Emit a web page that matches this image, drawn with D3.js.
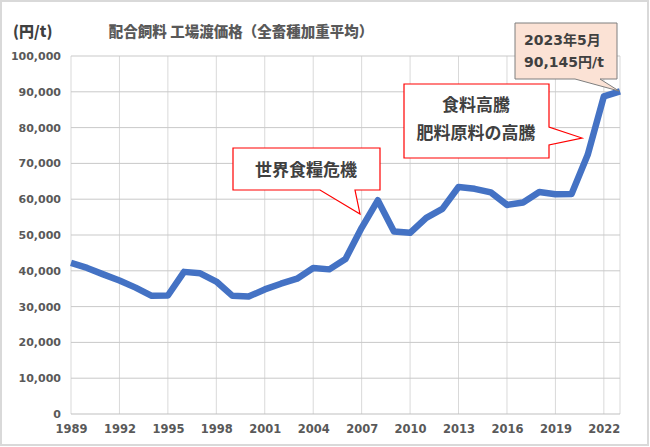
<!DOCTYPE html>
<html>
<head>
<meta charset="utf-8">
<script src="https://cdn.jsdelivr.net/npm/d3@7"></script>
<style>
    body { margin: 0; background: #ffffff; }
    svg { display: block; }
</style>
</head>
<body>
<div id="chart"></div>
<script>
// data (yen per ton, yearly)
var years = d3.range(1989, 2024);
var prices = [
    42200, 40800, 39000, 37300, 35300, 33000, 33100, 39700, 39300, 37000,
    33000, 32800, 34800, 36400, 37800, 40800, 40400, 43300, 52000, 59700,
    51000, 50600, 54800, 57300, 63400, 62900, 61900, 58400, 59100, 62000,
    61400, 61450, 72400, 88700, 90145
];
var yTicks = [0, 10000, 20000, 30000, 40000, 50000, 60000, 70000, 80000, 90000, 100000];
var xTicks = d3.range(1989, 2024, 3);

var width = 650, height = 447;
var font = "'DejaVu Sans', 'Noto Sans CJK JP', sans-serif";
var jpFont = "'Noto Sans CJK JP', sans-serif";
var textColor = "#595959";

var svg = d3.select("#chart")
    .append("svg")
    .attr("width", width)
    .attr("height", height);

// outer frame
svg.append("rect")
    .attr("x", 1).attr("y", 1)
    .attr("width", width - 3).attr("height", height - 3)
    .attr("fill", "#ffffff")
    .attr("stroke", "#d9d9d9")
    .attr("stroke-width", 2);

var x = d3.scaleLinear().domain([1989, 2023]).range([71, 620]);
var y = d3.scaleLinear().domain([0, 100000]).range([414, 56]);

// vertical gridlines every 3 years + right edge
svg.append("g")
    .selectAll("line")
    .data(xTicks.concat([2023]))
    .enter().append("line")
    .attr("x1", d => x(d)).attr("x2", d => x(d))
    .attr("y1", y(100000)).attr("y2", y(0))
    .attr("stroke", "#d9d9d9")
    .attr("stroke-width", 1);

// horizontal gridlines
svg.append("g")
    .selectAll("line")
    .data(yTicks)
    .enter().append("line")
    .attr("x1", x(1989)).attr("x2", x(2023))
    .attr("y1", d => y(d)).attr("y2", d => y(d))
    .attr("stroke", d => d == 0 ? "#bfbfbf" : "#c9c9c9")
    .attr("stroke-width", 1);

// y axis labels
var yAxis = svg.append("g")
    .attr("transform", "translate(61,0)")
    .call(d3.axisLeft(y).tickValues(yTicks).tickSize(0).tickPadding(0).tickFormat(d3.format(",")));
yAxis.select(".domain").remove();
yAxis.selectAll("text")
    .attr("fill", textColor)
    .style("font-family", font)
    .style("font-size", "11px")
    .style("font-weight", "bold");

// x axis labels
var xAxis = svg.append("g")
    .attr("transform", "translate(0," + (y(0) + 8) + ")")
    .call(d3.axisBottom(x).tickValues(xTicks).tickSize(0).tickPadding(3).tickFormat(d3.format("d")));
xAxis.select(".domain").remove();
xAxis.selectAll("text")
    .attr("fill", textColor)
    .style("font-family", font)
    .style("font-size", "11.5px")
    .style("font-weight", "bold");

// the price line
var line = d3.line()
    .x((d, i) => x(years[i]))
    .y(d => y(d));
svg.append("path")
    .datum(prices)
    .attr("d", line)
    .attr("fill", "none")
    .attr("stroke", "#4472c4")
    .attr("stroke-width", 6.5)
    .attr("stroke-linejoin", "round")
    .attr("stroke-linecap", "butt");

// title and unit
svg.append("text")
    .attr("x", 241).attr("y", 37)
    .attr("text-anchor", "middle")
    .attr("fill", textColor)
    .style("font-family", jpFont)
    .style("font-size", "14.5px")
    .style("font-weight", "900")
    .text("配合飼料 工場渡価格（全畜種加重平均）");
svg.append("text")
    .attr("x", 13).attr("y", 37)
    .attr("fill", "#404040")
    .style("font-family", jpFont)
    .style("font-size", "15px")
    .style("font-weight", "900")
    .text("(円/t)");

// callout: world food crisis
svg.append("path")
    .attr("d", "M233,148 H380 V190 H355 L360,214 L320,190 H233 Z")
    .attr("fill", "#ffffff")
    .attr("stroke", "#ff0000")
    .attr("stroke-width", 1.2);
svg.append("text")
    .attr("x", 306).attr("y", 176)
    .attr("text-anchor", "middle")
    .attr("fill", "#404040")
    .style("font-family", jpFont)
    .style("font-size", "17px")
    .style("font-weight", "bold")
    .text("世界食糧危機");

// callout: food and fertilizer prices
svg.append("path")
    .attr("d", "M404,84 H549 V127 L582,138 L549,145 V158 H404 Z")
    .attr("fill", "#ffffff")
    .attr("stroke", "#ff0000")
    .attr("stroke-width", 1.2);
var note2 = ["食料高騰", "肥料原料の高騰"];
svg.append("g")
    .selectAll("text")
    .data(note2)
    .enter().append("text")
    .attr("x", 476)
    .attr("y", (d, i) => 111 + i * 28)
    .attr("text-anchor", "middle")
    .attr("fill", "#404040")
    .style("font-family", jpFont)
    .style("font-size", "17px")
    .style("font-weight", "bold")
    .text(d => d);

// callout: latest value
svg.append("path")
    .attr("d", "M515,23 H617 V79 H600 L619,91 L575,79 H515 Z")
    .attr("fill", "#fbe2d5")
    .attr("stroke", "#7f7f7f")
    .attr("stroke-width", 1);
var note3 = ["2023年5月", "90,145円/t"];
svg.append("g")
    .selectAll("text")
    .data(note3)
    .enter().append("text")
    .attr("x", 524)
    .attr("y", (d, i) => 45 + i * 22)
    .attr("fill", "#404040")
    .style("font-family", font)
    .style("font-size", "14px")
    .style("font-weight", "bold")
    .text(d => d);
</script>
</body>
</html>
